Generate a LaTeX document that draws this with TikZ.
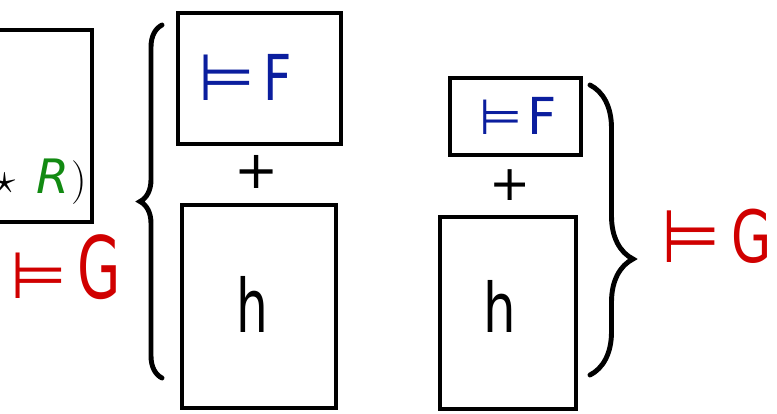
\documentclass[tikz,border=0pt]{standalone}
\usepackage{fontspec}
\newfontfamily\handfont{DejaVu Sans}
\usetikzlibrary{decorations.pathreplacing}
\definecolor{hwBlue}{HTML}{0B1E9E}
\definecolor{hwRed}{HTML}{D00000}
\definecolor{hwGreen}{HTML}{128A12}
% size, horizontal squeeze, text
\newcommand\hw[3]{{\fontsize{#1}{#1}\selectfont\scalebox{#2}[1]{#3}}}

\begin{document}
\begin{tikzpicture}[
    x=0.02cm, y=-0.02cm,
    box/.style={draw, line width=2.3pt, inner sep=0pt},
    curly/.style={decorate, line width=2.8pt, line cap=round},
    lbl/.style={font=\handfont, inner sep=0pt, anchor=base west}
]
    \useasboundingbox (0,0) rectangle (777,413);

    % left part, cut at the page edge
    \node[box, minimum width=4.24cm, minimum height=3.84cm] (lhs) at (-14,126) {};
    \node[anchor=base east, inner sep=0pt] (lhstext) at (87,193)
        {\fontsize{27}{30}\selectfont$\star$\hspace{12pt}{\handfont\itshape\color{hwGreen}R}\hspace{1pt}$)$};
    \node[lbl, text=hwRed] (g1) at (10,298)
        {\hw{37}{1}{⊨}\hspace{6pt}\hw{49}{.65}{G}};

    % middle group
    \node[box, minimum width=3.26cm, minimum height=2.62cm] (f1) at (259.5,78.5) {};
    \node[lbl, text=hwBlue] (f1text) at (198,100)
        {\hw{37}{1}{⊨}\hspace{5pt}\hw{36}{.78}{F}};
    \node[lbl, anchor=base] (plus1) at (257,188) {\hw{30}{1}{+}};
    \node[box, minimum width=3.08cm, minimum height=4.06cm] (h1) at (259,306.5) {};
    \node[lbl] (h1text) at (236,332) {\hw{42}{.68}{h}};
    \draw[curly, decoration={brace, amplitude=0.44cm, aspect=0.5}] (162,378) -- (162,25);

    % right group
    \node[box, minimum width=2.62cm, minimum height=1.54cm] (f2) at (515.5,116.5) {};
    \node[lbl, text=hwBlue] (f2text) at (479,134)
        {\hw{28}{1}{⊨}\hspace{3pt}\hw{29}{1}{F}};
    \node[lbl, anchor=base] (plus2) at (510,200) {\hw{28}{1}{+}};
    \node[box, minimum width=2.72cm, minimum height=3.84cm] (h2) at (508,313) {};
    \node[lbl] (h2text) at (483,332) {\hw{39}{.75}{h}};
    \draw[curly, decoration={brace, amplitude=0.86cm, aspect=0.6}] (590,85) -- (590,375);
    \node[lbl, text=hwRed] (g2) at (661,262)
        {\hw{42}{.92}{⊨}\hspace{6pt}\hw{41}{.72}{G}};
\end{tikzpicture}
\end{document}
